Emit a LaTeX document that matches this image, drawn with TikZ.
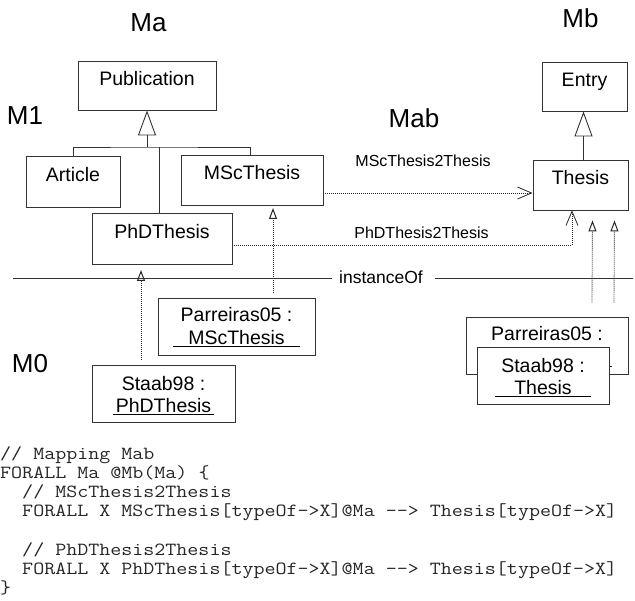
\documentclass[tikz,border=0pt]{standalone}
\usepackage{graphicx}
\usepackage{fontspec}
\setmainfont{Liberation Sans}
\usetikzlibrary{arrows.meta}
\newcommand{\codefnt}{\fontsize{18.5}{19}\ttfamily}
\newlength{\codewidth}
\settowidth{\codewidth}{\codefnt\ \ FORALL X MScThesis[typeOf->X]@Ma -{}-> Thesis[typeOf->X]}
\begin{document}
\pgfmathsetmacro{\codesc}{617pt/\codewidth}
\begin{tikzpicture}[x=1pt,y=-1pt,
  umlbox/.style={draw=black!80, line width=0.9pt, fill=white, inner sep=2pt,
    font=\fontsize{19.5}{22}\selectfont, text height=14pt, text depth=14pt},
  ibox/.style={draw=black!80, line width=0.9pt, fill=white, inner sep=0pt, minimum height=57pt},
  itext/.style={inner sep=0pt, anchor=base, font=\fontsize{19.5}{22}\selectfont},
  title/.style={inner sep=0pt, anchor=base, font=\fontsize{26}{30}\selectfont},
  lbl/.style={inner sep=0pt, anchor=base, font=\fontsize{16}{19}\selectfont},
  codeline/.style={inner sep=0pt, anchor=base west, font=\codefnt, text=black!85},
  conn/.style={draw=black!80, line width=0.9pt},
  gen/.style={conn, -{Triangle[open, length=25pt, width=18pt, line width=0.9pt]}},
  dots/.style={draw=black!85, line width=0.85pt, dash pattern=on 0.8pt off 1.2pt},
  map/.style={dots, -{Straight Barb[length=14pt, width=12pt, line width=0.8pt]}},
  inst/.style={dots, -{Triangle[open, length=11pt, width=8pt, line width=1pt]}}
]
\path[use as bounding box, fill=white] (0,0) rectangle (635,601);

% titles
\node[title] (tMa) at (148.5,32) {Ma};
\node[title] (tMb) at (580.5,28) {Mb};
\node[title] (tMab) at (414,128) {Mab};
\node[title] (tM1) at (25,125) {M1};
\node[title] (tM0) at (30,373) {M0};

% M1 classes
\node[umlbox, minimum width=138pt, minimum height=49pt] (pub) at (147,85.5) {Publication};
\node[umlbox, minimum width=94pt, minimum height=51pt] (article) at (73,181.5) {Article};
\node[umlbox, minimum width=142pt, minimum height=50pt] (msc) at (252,180) {MScThesis};
\node[umlbox, minimum width=140pt, minimum height=51pt] (phd) at (162,238.5) {PhDThesis};
\node[umlbox, minimum width=85pt, minimum height=49pt] (entry) at (584.5,86.5) {Entry};
\node[umlbox, minimum width=95pt, minimum height=50pt] (thesis) at (580.5,185) {Thesis};

% generalization
\coordinate (pubjn) at (147,147);
\draw[gen] (pubjn) -- (pub.south);
\draw[conn] (article.north) |- (pubjn) -| ([xshift=-2pt]msc.north);
\draw[conn] ([xshift=-3pt]phd.north) -- ([xshift=-3pt]phd.north |- pubjn);
\draw[gen] ([xshift=-1pt]entry.south |- thesis.north) -- ([xshift=-1pt]entry.south);

% mappings
\draw[map] ([yshift=-13pt]msc.east) -- ([yshift=-13pt]msc.east -| thesis.west);
\draw[map] ([yshift=-6.5pt]phd.east) -| ([xshift=-8.5pt]thesis.south);
\node[lbl] (lmsc) at (423,167) {MScThesis2Thesis};
\node[lbl] (lphd) at (421.5,239) {PhDThesis2Thesis};

% instanceOf separator
\coordinate (ioL) at (13,278);
\coordinate (ioR) at (633,278);
\node[inner sep=0pt, anchor=base, font=\fontsize{17.5}{20}\selectfont] (io) at (381,284) {instanceOf};
\draw[conn] (ioL) -- ([xshift=-7pt]io.west |- ioL);
\draw[conn] ([xshift=12pt]io.east |- ioR) -- (ioR);

% M0 instances (left)
\node[ibox, minimum width=157pt] (parr) at (236.5,326.5) {};
\node[itext] (parrT1) at ([yshift=4.5pt]parr.center) {Parreiras05 :};
\node[itext] (parrT2) at ([yshift=-18.5pt]parr.center) {\underline{\hspace{15pt}MScThesis\hspace{15pt}}};
\node[ibox, minimum width=143pt] (staab) at (163.5,393.5) {};
\node[itext] (staabT1) at ([yshift=2.5pt]staab.center) {Staab98 :};
\node[itext] (staabT2) at ([yshift=-19.5pt]staab.center) {\underline{\hspace{3pt}PhDThesis\hspace{3pt}}};

% M0 instances (right): back box partly hidden by the front box
\node[ibox, minimum width=162pt] (parrB) at (547,345.5) {};
\node[itext] (parrBT1) at ([yshift=4.5pt]parrB.center) {Parreiras05 :};
\draw[black!85, line width=0.8pt] ([xshift=-62pt,yshift=-20.5pt]parrB.center) -- ([xshift=65pt,yshift=-20.5pt]parrB.center);
\node[ibox, minimum width=132pt] (staabB) at (543,375.5) {};
\node[itext] (staabBT1) at ([yshift=2.5pt]staabB.center) {Staab98 :};
\node[itext] (staabBT2) at ([yshift=-19.5pt]staabB.center) {\underline{\hspace{19pt}Thesis\hspace{19pt}}};

% instanceOf arrows
\draw[inst] ([xshift=-22.5pt,yshift=5pt]staab.north) -- ([xshift=-22.5pt,yshift=5pt]staab.north |- 0,275);
\draw[inst] ([xshift=36.5pt,yshift=5pt]parr.north) -- ([xshift=36.5pt,yshift=5pt]parr.north |- 0,213);
\draw[inst] ([xshift=45pt,yshift=14pt]parrB.north) -- ([xshift=12pt,yshift=-10pt]thesis.south);
\draw[inst] ([xshift=67pt,yshift=14pt]parrB.north) -- ([xshift=34pt,yshift=-10pt]thesis.south);

% code
\node[codeline] (c1) at (0,460) {\scalebox{\codesc}[1]{// Mapping Mab}};
\node[codeline] (c2) at (0,479) {\scalebox{\codesc}[1]{FORALL Ma @Mb(Ma) \{}};
\node[codeline] (c3) at (0,498) {\scalebox{\codesc}[1]{\ \ // MScThesis2Thesis}};
\node[codeline] (c4) at (0,517) {\scalebox{\codesc}[1]{\ \ FORALL X MScThesis[typeOf->X]@Ma -{}-> Thesis[typeOf->X]}};
\node[codeline] (c6) at (0,555) {\scalebox{\codesc}[1]{\ \ // PhDThesis2Thesis}};
\node[codeline] (c7) at (0,574) {\scalebox{\codesc}[1]{\ \ FORALL X PhDThesis[typeOf->X]@Ma -{}-> Thesis[typeOf->X]}};
\node[codeline] (c8) at (0,593) {\scalebox{\codesc}[1]{\}}};
\end{tikzpicture}
\end{document}
